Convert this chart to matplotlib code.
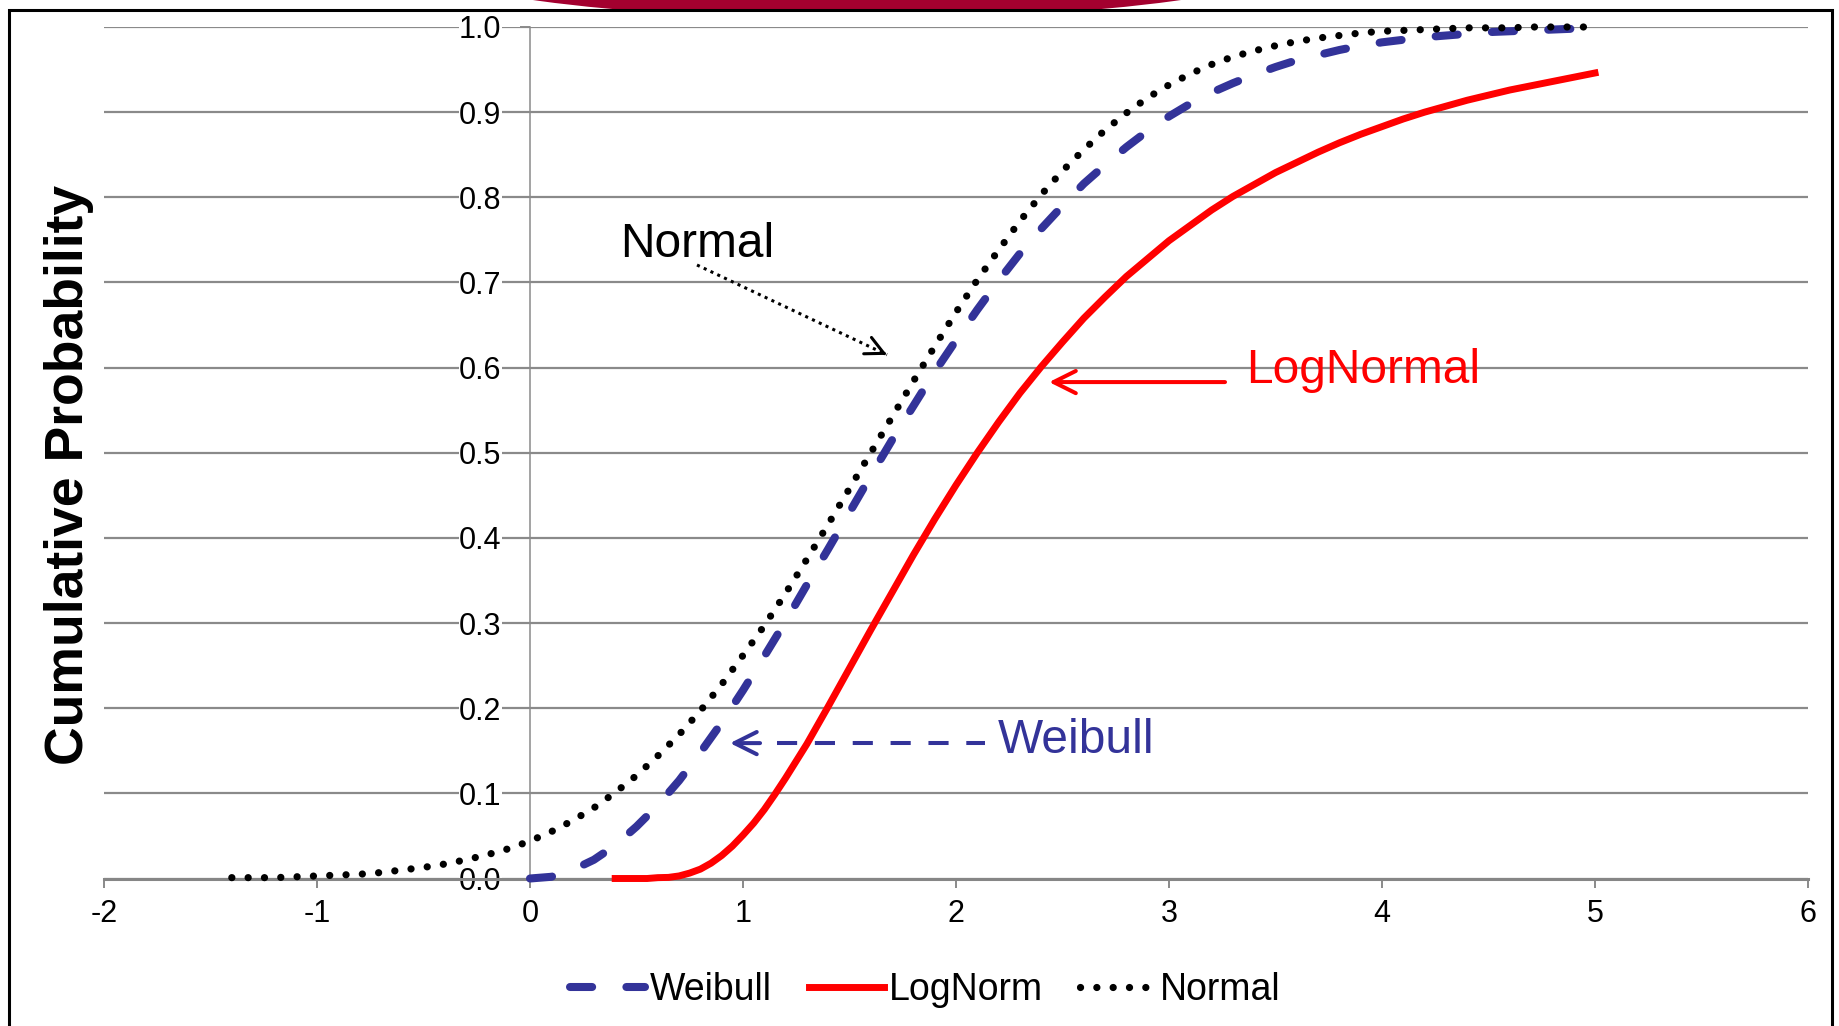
import numpy as np
import matplotlib.pyplot as plt
from matplotlib.patches import Ellipse, Rectangle

plt.rcParams['font.family'] = 'Liberation Sans'

# cumulative probability curves, sampled every 0.1 (0.05 along the tight lognormal bend)
weibull_x = np.round(np.arange(0.0, 5.01, 0.1), 2)
weibull_y = [0.000, 0.002, 0.010, 0.022, 0.039, 0.061, 0.086, 0.115, 0.148, 0.183,
             0.221, 0.261, 0.302, 0.345, 0.387, 0.430, 0.473, 0.515, 0.555, 0.595,
             0.632, 0.668, 0.702, 0.734, 0.763, 0.790, 0.816, 0.838, 0.859, 0.878,
             0.895, 0.910, 0.923, 0.934, 0.944, 0.953, 0.961, 0.967, 0.973, 0.978,
             0.982, 0.985, 0.988, 0.990, 0.992, 0.994, 0.995, 0.996, 0.997, 0.998,
             0.998]

lognorm_x = np.round(np.r_[np.arange(0.4, 1.42, 0.05), np.arange(1.5, 5.01, 0.1)], 2)
lognorm_y = [0.000, 0.000, 0.000, 0.000, 0.001, 0.0013, 0.003, 0.0064, 0.011, 0.018,
             0.027, 0.038, 0.051, 0.065, 0.081, 0.099, 0.118, 0.138, 0.158, 0.180,
             0.202,
             0.247, 0.292, 0.336, 0.380, 0.422, 0.462, 0.500, 0.536, 0.570,
             0.601, 0.630, 0.658, 0.683, 0.707, 0.728, 0.749, 0.767, 0.785, 0.801,
             0.815, 0.829, 0.841, 0.853, 0.864, 0.874, 0.883, 0.892, 0.900, 0.907,
             0.914, 0.920, 0.926, 0.931, 0.936, 0.941, 0.946]

normal_x = np.round(np.arange(-1.4, 5.01, 0.1), 2)
normal_y = [0.001, 0.001, 0.001, 0.002, 0.003, 0.004, 0.005, 0.007, 0.010, 0.013,
            0.017, 0.022, 0.028, 0.035, 0.044, 0.055, 0.068, 0.083, 0.101, 0.121,
            0.144, 0.169, 0.197, 0.228, 0.262, 0.297, 0.335, 0.375, 0.416, 0.458,
            0.500, 0.542, 0.584, 0.625, 0.665, 0.703, 0.738, 0.772, 0.803, 0.831,
            0.856, 0.879, 0.899, 0.917, 0.932, 0.945, 0.956, 0.965, 0.972, 0.978,
            0.983, 0.987, 0.990, 0.993, 0.995, 0.996, 0.997, 0.998, 0.999, 0.999,
            0.999, 1.000, 1.000, 1.000, 1.000]

xticks = [-2, -1, 0, 1, 2, 3, 4, 5, 6]
yticks = [0.0, 0.1, 0.2, 0.3, 0.4, 0.5, 0.6, 0.7, 0.8, 0.9, 1.0]
ytick_labels = ['0.0', '0.1', '0.2', '0.3', '0.4', '0.5', '0.6', '0.7', '0.8', '0.9', '1.0']

blue = '#333399'
grey = '#8a8a8a'

W, H = 1839, 1026
fig = plt.figure(figsize=(W / 100, H / 100), dpi=100)

# slide background: red arc at the top, black frame around the chart
bg = fig.add_axes([0, 0, 1, 1], zorder=-1)
bg.set_xlim(0, W)
bg.set_ylim(H, 0)
bg.axis('off')
bg.add_patch(Ellipse((857, -43), 900, 124, facecolor='#a3002f', edgecolor='none'))
bg.add_patch(Rectangle((9.5, 9.5), 1823, 1100, facecolor='white', edgecolor='black', lw=2.2))

ax = fig.add_axes([104 / W, 1 - 878.5 / H, 1704 / W, 851.5 / H])
ax.set_facecolor('none')
ax.set_xlim(-2, 6)
ax.set_ylim(0, 1)

ax.plot(weibull_x, weibull_y, color=blue, lw=5.8, dashes=(2.75, 4.25),
        dash_capstyle='round', label='Weibull', clip_on=False, zorder=3)
ax.plot(lognorm_x, lognorm_y, color='#ff0000', lw=5.0, label='LogNorm',
        solid_joinstyle='round', clip_on=False, zorder=3)
ax.plot(normal_x, normal_y, color='black', lw=5.2, dashes=(0.01, 2.25),
        dash_capstyle='round', label='Normal', clip_on=False, zorder=3)

# axes styling
for side in ['top', 'right']:
    ax.spines[side].set_visible(False)
ax.spines['left'].set_position(('data', 0))
ax.spines['left'].set_color(grey)
ax.spines['left'].set_linewidth(1.1)
ax.spines['bottom'].set_color('#868686')
ax.spines['bottom'].set_linewidth(2.2)

ax.set_xticks(xticks)
ax.set_xticklabels([str(t) for t in xticks])
ax.set_yticks(yticks)
ax.set_yticklabels(ytick_labels)
ax.tick_params(axis='x', direction='out', length=6.5, width=1.4, color=grey,
               pad=8, labelsize=22)
ax.tick_params(axis='y', direction='out', length=7, width=1.4, color=grey,
               pad=13.5, labelsize=22)
for lab in ax.get_yticklabels():
    lab.set_bbox(dict(facecolor='white', edgecolor='none', pad=0))
ax.set_axisbelow(True)
ax.yaxis.grid(True, color=grey, lw=1.6)

fig.text(69 / W, 0.537, 'Cumulative Probability', rotation=90, ha='center',
         va='center', fontsize=38.5, fontweight='bold')

# call-outs
head = '->,head_length=1.6,head_width=0.8'
ax.annotate('', xy=(0.939, 0.159), xytext=(1.08, 0.159),
            arrowprops=dict(arrowstyle=head, lw=2.9, color=blue, shrinkA=0,
                            shrinkB=0, mutation_scale=10, capstyle='round'),
            zorder=4)
ax.plot([1.16, 2.136], [0.159, 0.159], color=blue, lw=2.9, dashes=(5, 4.4), zorder=4)
ax.text(2.195, 0.147, 'Weibull', color=blue, fontsize=34.5, va='baseline')

ax.annotate('', xy=(2.437, 0.583), xytext=(3.263, 0.583),
            arrowprops=dict(arrowstyle=head, lw=2.9, color='#ff0000', shrinkA=0,
                            shrinkB=0, mutation_scale=10, capstyle='round'),
            zorder=4)
ax.text(3.362, 0.582, 'LogNormal', color='#ff0000', fontsize=34.5, va='baseline')

ax.plot([0.784, 1.676], [0.7205, 0.615], color='black', lw=2.2,
        dashes=(1, 1.45), zorder=4)
ax.annotate('', xy=(1.676, 0.615), xytext=(1.660, 0.6169),
            arrowprops=dict(arrowstyle='->,head_length=1.3,head_width=0.65', lw=2.2,
                            color='black', shrinkA=0, shrinkB=0, mutation_scale=10),
            zorder=4)
ax.text(0.422, 0.730, 'Normal', color='black', fontsize=34.5, va='baseline')

fig.legend(loc='center', bbox_to_anchor=(0.503, 0.035), ncol=3, frameon=False,
           fontsize=27, handlelength=2.0, handletextpad=0.12, columnspacing=1.0)

fig.savefig('out.png', dpi=100)
